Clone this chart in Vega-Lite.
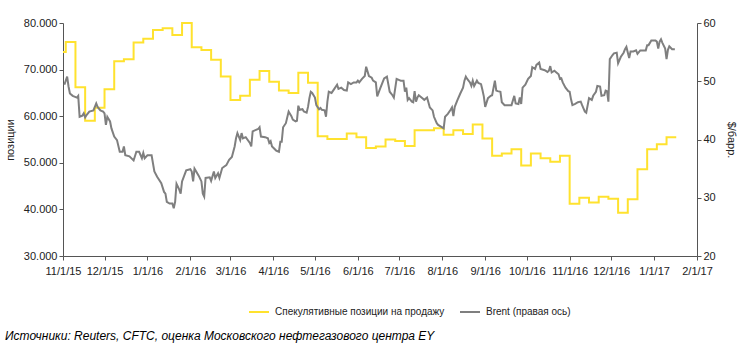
{
 "$schema": "https://vega.github.io/schema/vega-lite/v6.json",
 "width": 634, "height": 233,
 "autosize": {"type": "none"},
 "padding": {"left": 63, "top": 23, "right": 48, "bottom": 98},
 "config": {
  "view": {"stroke": null},
  "font": "Liberation Sans",
  "axis": {"grid": false, "labelFont": "Liberation Sans", "labelFontSize": 11, "labelColor": "#222", "domainColor": "#555", "tickColor": "#555", "tickSize": 4, "titleFont": "Liberation Sans", "titleFontWeight": "normal", "titleFontSize": 11, "titleColor": "#222"}
 },
 "title": {"text": "Источники: Reuters, CFTC, оценка Московского нефтегазового центра EY", "orient": "bottom", "anchor": "start", "frame": "group", "dx": -58, "offset": 14, "font": "Liberation Sans", "fontStyle": "italic", "fontWeight": "normal", "fontSize": 12, "color": "#000"},
 "datasets": {
  "short": [
   {"d":"2015-11-01","v":73800},{"d":"2015-11-03","v":75900},{"d":"2015-11-10","v":66200},{"d":"2015-11-17","v":59000},{"d":"2015-11-24","v":61800},
   {"d":"2015-12-01","v":65800},{"d":"2015-12-08","v":71800},{"d":"2015-12-15","v":72200},{"d":"2015-12-22","v":75800},{"d":"2015-12-29","v":76600},
   {"d":"2016-01-05","v":78500},{"d":"2016-01-12","v":78900},{"d":"2016-01-19","v":77400},{"d":"2016-01-26","v":80000},{"d":"2016-02-02","v":74800},
   {"d":"2016-02-09","v":74200},{"d":"2016-02-16","v":72100},{"d":"2016-02-23","v":68500},{"d":"2016-03-01","v":63500},{"d":"2016-03-08","v":64400},
   {"d":"2016-03-15","v":67800},{"d":"2016-03-22","v":69700},{"d":"2016-03-29","v":67400},{"d":"2016-04-05","v":65500},{"d":"2016-04-12","v":65000},
   {"d":"2016-04-19","v":69300},{"d":"2016-04-26","v":67200},{"d":"2016-05-03","v":55700},{"d":"2016-05-10","v":55100},{"d":"2016-05-17","v":55100},
   {"d":"2016-05-24","v":56300},{"d":"2016-05-31","v":55500},{"d":"2016-06-07","v":53200},{"d":"2016-06-14","v":53500},{"d":"2016-06-21","v":55000},
   {"d":"2016-06-28","v":54700},{"d":"2016-07-05","v":53600},{"d":"2016-07-12","v":57000},{"d":"2016-07-19","v":57000},{"d":"2016-07-26","v":57400},
   {"d":"2016-08-02","v":56000},{"d":"2016-08-09","v":57000},{"d":"2016-08-16","v":56200},{"d":"2016-08-23","v":58200},{"d":"2016-08-30","v":55200},
   {"d":"2016-09-06","v":51500},{"d":"2016-09-13","v":52000},{"d":"2016-09-20","v":52900},{"d":"2016-09-27","v":49400},{"d":"2016-10-04","v":52000},
   {"d":"2016-10-11","v":51000},{"d":"2016-10-18","v":50200},{"d":"2016-10-25","v":51500},{"d":"2016-11-01","v":41200},{"d":"2016-11-08","v":42500},
   {"d":"2016-11-15","v":41500},{"d":"2016-11-22","v":42700},{"d":"2016-11-29","v":42300},{"d":"2016-12-06","v":39300},{"d":"2016-12-13","v":42200},
   {"d":"2016-12-20","v":48600},{"d":"2016-12-27","v":52900},{"d":"2017-01-03","v":54000},{"d":"2017-01-10","v":55500},{"d":"2017-01-17","v":55500}
  ],
  "brent": [
   {"d":"2015-11-02","v":49.4},{"d":"2015-11-04","v":50.8},{"d":"2015-11-05","v":49.1},{"d":"2015-11-06","v":47.9},{"d":"2015-11-08","v":47.5},
   {"d":"2015-11-11","v":47.2},{"d":"2015-11-12","v":47.5},{"d":"2015-11-13","v":43.9},{"d":"2015-11-15","v":44.1},{"d":"2015-11-16","v":44.5},
   {"d":"2015-11-17","v":43.8},{"d":"2015-11-18","v":44.2},{"d":"2015-11-20","v":44.8},{"d":"2015-11-23","v":45.0},{"d":"2015-11-25","v":46.2},
   {"d":"2015-11-26","v":45.6},{"d":"2015-11-28","v":45.0},{"d":"2015-11-30","v":44.8},{"d":"2015-12-01","v":44.5},{"d":"2015-12-02","v":42.5},
   {"d":"2015-12-03","v":43.9},{"d":"2015-12-05","v":43.1},{"d":"2015-12-06","v":41.9},{"d":"2015-12-08","v":40.5},{"d":"2015-12-10","v":39.9},
   {"d":"2015-12-12","v":37.9},{"d":"2015-12-14","v":37.9},{"d":"2015-12-15","v":38.8},{"d":"2015-12-16","v":37.3},{"d":"2015-12-19","v":37.1},
   {"d":"2015-12-22","v":36.4},{"d":"2015-12-24","v":37.9},{"d":"2015-12-26","v":37.9},{"d":"2015-12-28","v":36.8},{"d":"2015-12-29","v":37.7},
   {"d":"2015-12-30","v":36.8},{"d":"2016-01-01","v":37.3},{"d":"2016-01-04","v":37.3},{"d":"2016-01-06","v":34.5},{"d":"2016-01-08","v":33.6},
   {"d":"2016-01-11","v":32.5},{"d":"2016-01-13","v":31.0},{"d":"2016-01-14","v":30.7},{"d":"2016-01-15","v":29.3},{"d":"2016-01-17","v":29.0},
   {"d":"2016-01-19","v":29.0},{"d":"2016-01-20","v":28.2},{"d":"2016-01-21","v":29.3},{"d":"2016-01-22","v":32.4},{"d":"2016-01-24","v":31.4},
   {"d":"2016-01-25","v":30.7},{"d":"2016-01-26","v":32.8},{"d":"2016-01-29","v":34.7},{"d":"2016-02-01","v":34.9},{"d":"2016-02-02","v":34.5},
   {"d":"2016-02-03","v":32.8},{"d":"2016-02-04","v":35.0},{"d":"2016-02-07","v":33.8},{"d":"2016-02-09","v":32.8},{"d":"2016-02-10","v":30.7},
   {"d":"2016-02-11","v":30.2},{"d":"2016-02-12","v":33.4},{"d":"2016-02-15","v":33.5},{"d":"2016-02-16","v":32.9},{"d":"2016-02-18","v":34.5},
   {"d":"2016-02-19","v":33.4},{"d":"2016-02-21","v":34.2},{"d":"2016-02-22","v":33.4},{"d":"2016-02-24","v":35.1},{"d":"2016-02-27","v":35.6},
   {"d":"2016-02-29","v":36.5},{"d":"2016-03-02","v":37.0},{"d":"2016-03-04","v":38.8},{"d":"2016-03-05","v":40.2},{"d":"2016-03-06","v":41.1},
   {"d":"2016-03-08","v":39.9},{"d":"2016-03-09","v":41.1},{"d":"2016-03-10","v":40.2},{"d":"2016-03-12","v":40.4},{"d":"2016-03-15","v":39.4},
   {"d":"2016-03-16","v":38.8},{"d":"2016-03-17","v":41.4},{"d":"2016-03-19","v":41.6},{"d":"2016-03-21","v":41.8},{"d":"2016-03-22","v":42.1},
   {"d":"2016-03-23","v":40.5},{"d":"2016-03-26","v":40.4},{"d":"2016-03-28","v":40.2},{"d":"2016-03-29","v":39.4},{"d":"2016-03-30","v":39.7},
   {"d":"2016-03-31","v":38.8},{"d":"2016-04-03","v":38.1},{"d":"2016-04-05","v":37.9},{"d":"2016-04-06","v":39.6},{"d":"2016-04-07","v":39.6},
   {"d":"2016-04-08","v":42.1},{"d":"2016-04-10","v":42.8},{"d":"2016-04-12","v":44.8},{"d":"2016-04-14","v":44.0},{"d":"2016-04-15","v":43.4},
   {"d":"2016-04-17","v":43.1},{"d":"2016-04-18","v":43.2},{"d":"2016-04-19","v":45.8},{"d":"2016-04-20","v":45.1},{"d":"2016-04-22","v":45.2},
   {"d":"2016-04-23","v":44.8},{"d":"2016-04-25","v":44.6},{"d":"2016-04-26","v":45.6},{"d":"2016-04-27","v":47.1},{"d":"2016-04-28","v":48.2},
   {"d":"2016-04-29","v":48.0},{"d":"2016-05-01","v":47.2},{"d":"2016-05-02","v":45.9},{"d":"2016-05-04","v":45.2},{"d":"2016-05-05","v":45.4},
   {"d":"2016-05-06","v":45.1},{"d":"2016-05-08","v":45.0},{"d":"2016-05-09","v":43.9},{"d":"2016-05-10","v":46.5},{"d":"2016-05-11","v":48.2},
   {"d":"2016-05-13","v":48.0},{"d":"2016-05-15","v":48.7},{"d":"2016-05-17","v":49.4},{"d":"2016-05-18","v":48.7},{"d":"2016-05-20","v":48.9},
   {"d":"2016-05-22","v":48.5},{"d":"2016-05-24","v":48.4},{"d":"2016-05-25","v":49.8},{"d":"2016-05-27","v":49.5},{"d":"2016-05-29","v":49.8},
   {"d":"2016-05-31","v":49.8},{"d":"2016-06-01","v":50.1},{"d":"2016-06-02","v":49.8},{"d":"2016-06-04","v":50.4},{"d":"2016-06-06","v":50.9},
   {"d":"2016-06-07","v":52.5},{"d":"2016-06-09","v":50.9},{"d":"2016-06-11","v":50.6},{"d":"2016-06-12","v":50.1},{"d":"2016-06-14","v":49.8},
   {"d":"2016-06-15","v":47.4},{"d":"2016-06-17","v":48.7},{"d":"2016-06-19","v":49.9},{"d":"2016-06-20","v":50.5},{"d":"2016-06-22","v":50.8},
   {"d":"2016-06-23","v":49.5},{"d":"2016-06-24","v":48.2},{"d":"2016-06-26","v":47.6},{"d":"2016-06-27","v":47.2},{"d":"2016-06-29","v":50.4},
   {"d":"2016-07-01","v":50.2},{"d":"2016-07-02","v":50.1},{"d":"2016-07-04","v":50.1},{"d":"2016-07-05","v":48.2},{"d":"2016-07-06","v":48.9},
   {"d":"2016-07-07","v":46.8},{"d":"2016-07-08","v":47.1},{"d":"2016-07-10","v":46.5},{"d":"2016-07-11","v":46.4},{"d":"2016-07-12","v":48.3},
   {"d":"2016-07-13","v":46.5},{"d":"2016-07-14","v":47.2},{"d":"2016-07-15","v":47.6},{"d":"2016-07-17","v":47.2},{"d":"2016-07-19","v":46.8},
   {"d":"2016-07-21","v":47.2},{"d":"2016-07-23","v":45.5},{"d":"2016-07-25","v":45.0},{"d":"2016-07-26","v":43.9},{"d":"2016-07-28","v":42.8},
   {"d":"2016-07-29","v":42.5},{"d":"2016-07-31","v":42.2},{"d":"2016-08-02","v":41.9},{"d":"2016-08-03","v":43.9},{"d":"2016-08-05","v":44.4},
   {"d":"2016-08-07","v":45.1},{"d":"2016-08-08","v":45.5},{"d":"2016-08-09","v":44.0},{"d":"2016-08-10","v":45.6},{"d":"2016-08-12","v":46.8},
   {"d":"2016-08-14","v":47.9},{"d":"2016-08-16","v":48.9},{"d":"2016-08-17","v":50.1},{"d":"2016-08-18","v":50.8},{"d":"2016-08-19","v":50.4},
   {"d":"2016-08-21","v":49.8},{"d":"2016-08-22","v":49.2},{"d":"2016-08-23","v":50.1},{"d":"2016-08-24","v":49.2},{"d":"2016-08-26","v":50.1},
   {"d":"2016-08-27","v":49.7},{"d":"2016-08-29","v":49.5},{"d":"2016-08-30","v":48.5},{"d":"2016-08-31","v":47.4},{"d":"2016-09-01","v":45.6},
   {"d":"2016-09-03","v":47.1},{"d":"2016-09-05","v":47.5},{"d":"2016-09-06","v":47.6},{"d":"2016-09-08","v":50.1},{"d":"2016-09-09","v":48.4},
   {"d":"2016-09-10","v":48.3},{"d":"2016-09-12","v":48.2},{"d":"2016-09-13","v":46.4},{"d":"2016-09-15","v":45.9},{"d":"2016-09-17","v":45.9},
   {"d":"2016-09-20","v":45.9},{"d":"2016-09-22","v":47.5},{"d":"2016-09-23","v":46.2},{"d":"2016-09-25","v":46.1},{"d":"2016-09-26","v":47.2},
   {"d":"2016-09-27","v":46.1},{"d":"2016-09-28","v":48.9},{"d":"2016-09-30","v":49.4},{"d":"2016-10-02","v":50.4},{"d":"2016-10-04","v":50.9},
   {"d":"2016-10-05","v":52.4},{"d":"2016-10-07","v":52.1},{"d":"2016-10-08","v":52.8},{"d":"2016-10-10","v":53.2},{"d":"2016-10-11","v":52.1},
   {"d":"2016-10-14","v":51.9},{"d":"2016-10-16","v":51.6},{"d":"2016-10-17","v":51.8},{"d":"2016-10-18","v":52.6},{"d":"2016-10-19","v":51.5},
   {"d":"2016-10-21","v":51.8},{"d":"2016-10-22","v":51.6},{"d":"2016-10-24","v":51.2},{"d":"2016-10-25","v":50.4},{"d":"2016-10-26","v":50.5},
   {"d":"2016-10-27","v":49.8},{"d":"2016-10-29","v":48.9},{"d":"2016-10-31","v":48.3},{"d":"2016-11-01","v":48.2},{"d":"2016-11-02","v":46.9},
   {"d":"2016-11-03","v":45.9},{"d":"2016-11-05","v":46.1},{"d":"2016-11-07","v":46.4},{"d":"2016-11-09","v":46.5},{"d":"2016-11-10","v":45.9},
   {"d":"2016-11-12","v":44.8},{"d":"2016-11-13","v":44.6},{"d":"2016-11-15","v":47.1},{"d":"2016-11-17","v":46.8},{"d":"2016-11-18","v":47.5},
   {"d":"2016-11-20","v":48.2},{"d":"2016-11-21","v":49.2},{"d":"2016-11-23","v":49.1},{"d":"2016-11-24","v":47.5},{"d":"2016-11-26","v":47.6},
   {"d":"2016-11-27","v":48.4},{"d":"2016-11-28","v":48.3},{"d":"2016-11-29","v":46.5},{"d":"2016-11-30","v":53.8},{"d":"2016-12-02","v":54.5},
   {"d":"2016-12-03","v":54.8},{"d":"2016-12-05","v":54.9},{"d":"2016-12-06","v":53.1},{"d":"2016-12-08","v":54.2},{"d":"2016-12-10","v":54.9},
   {"d":"2016-12-11","v":55.5},{"d":"2016-12-12","v":55.9},{"d":"2016-12-14","v":54.0},{"d":"2016-12-15","v":55.1},{"d":"2016-12-17","v":55.1},
   {"d":"2016-12-19","v":55.3},{"d":"2016-12-20","v":54.7},{"d":"2016-12-22","v":55.3},{"d":"2016-12-24","v":55.3},{"d":"2016-12-26","v":55.3},
   {"d":"2016-12-27","v":56.2},{"d":"2016-12-28","v":56.2},{"d":"2016-12-30","v":57.0},{"d":"2017-01-02","v":57.0},{"d":"2017-01-03","v":56.8},
   {"d":"2017-01-04","v":55.6},{"d":"2017-01-05","v":56.8},{"d":"2017-01-06","v":57.2},{"d":"2017-01-07","v":56.6},{"d":"2017-01-09","v":55.6},
   {"d":"2017-01-10","v":53.8},{"d":"2017-01-11","v":55.4},{"d":"2017-01-12","v":56.0},{"d":"2017-01-14","v":55.5},{"d":"2017-01-15","v":55.5},
   {"d":"2017-01-16","v":55.5}
  ]
 },
 "layer": [
  {
   "data": {"name": "short"},
   "mark": {"type": "line", "interpolate": "step-after", "strokeWidth": 2},
   "encoding": {
    "x": {"field": "d", "type": "temporal", "scale": {"type": "utc", "domain": [{"year": 2015, "month": 11, "date": 1, "utc": true}, {"year": 2017, "month": 2, "date": 1, "utc": true}]}, "axis": {"title": null, "labelExpr": "utcFormat(datum.value, '%-m/%-d/%y')", "values": [
      {"year": 2015, "month": 11, "date": 1, "utc": true}, {"year": 2015, "month": 12, "date": 1, "utc": true},
      {"year": 2016, "month": 1, "date": 1, "utc": true}, {"year": 2016, "month": 2, "date": 1, "utc": true}, {"year": 2016, "month": 3, "date": 1, "utc": true},
      {"year": 2016, "month": 4, "date": 1, "utc": true}, {"year": 2016, "month": 5, "date": 1, "utc": true}, {"year": 2016, "month": 6, "date": 1, "utc": true},
      {"year": 2016, "month": 7, "date": 1, "utc": true}, {"year": 2016, "month": 8, "date": 1, "utc": true}, {"year": 2016, "month": 9, "date": 1, "utc": true},
      {"year": 2016, "month": 10, "date": 1, "utc": true}, {"year": 2016, "month": 11, "date": 1, "utc": true}, {"year": 2016, "month": 12, "date": 1, "utc": true},
      {"year": 2017, "month": 1, "date": 1, "utc": true}, {"year": 2017, "month": 2, "date": 1, "utc": true}], "labelPadding": 5, "labelFlush": false, "labelOverlap": false}},
    "y": {"field": "v", "type": "quantitative", "scale": {"domain": [30000, 80000], "nice": false, "zero": false}, "axis": {"title": "позиции", "values": [30000, 40000, 50000, 60000, 70000, 80000], "labelExpr": "replace(format(datum.value, ','), ',', '.')", "titlePadding": 8}},
    "color": {"datum": "Спекулятивные позиции на продажу", "scale": {"domain": ["Спекулятивные позиции на продажу", "Brent (правая ось)"], "range": ["#FFE22E", "#7F7F7F"]}, "legend": {"orient": "none", "legendX": 185, "legendY": 278, "direction": "horizontal", "title": null, "symbolType": "stroke", "symbolSize": 400, "symbolStrokeWidth": 2, "labelFont": "Liberation Sans", "labelFontSize": 10, "labelColor": "#222", "labelLimit": 0, "columnPadding": 11, "labelOffset": 5}}
   }
  },
  {
   "data": {"name": "brent"},
   "mark": {"type": "line", "strokeWidth": 2},
   "encoding": {
    "x": {"field": "d", "type": "temporal"},
    "y": {"field": "v", "type": "quantitative", "scale": {"domain": [20, 60], "nice": false, "zero": false}, "axis": {"orient": "right", "title": "$/барр.", "values": [20, 30, 40, 50, 60], "titlePadding": 10}},
    "color": {"datum": "Brent (правая ось)"}
   }
  }
 ],
 "resolve": {"scale": {"y": "independent"}}
}
